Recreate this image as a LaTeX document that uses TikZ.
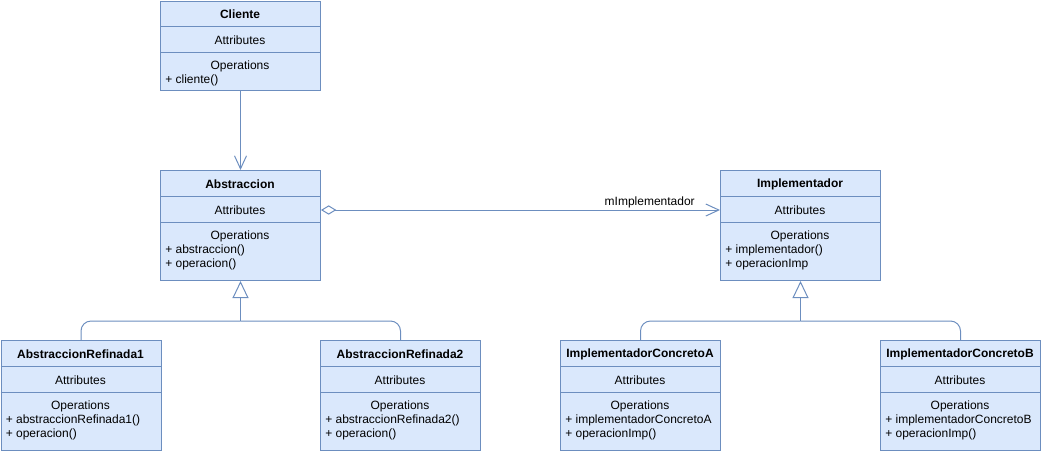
\documentclass[tikz,border=0pt]{standalone}
\usepackage{fontspec}
\setmainfont{Liberation Sans}
\usetikzlibrary{arrows.meta}

\definecolor{azulfundo}{HTML}{DAE8FC}
\definecolor{azulborda}{HTML}{6C8EBF}

\tikzset{
  caixa/.style={draw=azulborda, fill=azulfundo, line width=0.75pt, minimum width=120pt, inner sep=0pt},
  divisoria/.style={draw=azulborda, line width=0.75pt},
  texto/.style={font=\fontsize{9}{10.5}\selectfont, inner sep=0pt},
  titulo/.style={texto, font=\fontsize{9}{10.5}\selectfont\bfseries},
  metodos/.style={texto, anchor=base west},
  ligacao/.style={draw=azulborda, line width=0.75pt},
  associa/.style={ligacao, -{Straight Barb[length=9.75pt, width=9pt]}},
  agrega/.style={ligacao, {Diamond[open, length=11.5pt, width=7pt]}-{Straight Barb[length=9.75pt, width=9pt]}},
  heranca/.style={ligacao, -{Triangle[open, length=12.75pt, width=12pt]}},
  ramo/.style={ligacao, rounded corners=7.5pt}
}

% nome, x, y, altura, titulo, operacoes (em px)
\newcommand{\classeuml}[6]{%
  \node[caixa, minimum height=#4*0.75pt, anchor=north west] (#1) at (#2,#3) {};
  \draw[divisoria] (#2,#3+26) -- (#2+160,#3+26);
  \draw[divisoria] (#2,#3+52) -- (#2+160,#3+52);
  \node[titulo] (#1-tit) at (#2+80,#3+14) {#5};
  \node[texto] (#1-atr) at (#2+80,#3+40) {Attributes};
  \node[texto] (#1-oper) at (#2+80,#3+66) {Operations};
  \foreach \m [count=\i] in {#6}
    \node[metodos] (#1-met\i) at (#2+5,#3+69+14*\i) {\m};
}

\begin{document}
\begin{tikzpicture}[x=0.75pt, y=-0.75pt]
  \useasboundingbox (0,0) rectangle (1041,454);

  % classes
  \classeuml{cliente}{160}{0.5}{89.5}{Cliente}{+ cliente()}
  \classeuml{abstr}{160}{170}{110}{Abstraccion}{+ abstraccion(), + operacion()}
  \classeuml{impl}{720}{170}{110}{Implementador}{+ implementador(), + operacionImp}
  \classeuml{ref1}{0.5}{340}{110}{AbstraccionRefinada1}{+ abstraccionRefinada1(), + operacion()}
  \classeuml{ref2}{320}{340}{110}{AbstraccionRefinada2}{+ abstraccionRefinada2(), + operacion()}
  \classeuml{concA}{560}{340}{110}{ImplementadorConcretoA}{+ implementadorConcretoA, + operacionImp()}
  \classeuml{concB}{880}{340}{110}{ImplementadorConcretoB}{+ implementadorConcretoB, + operacionImp()}

  % cliente usa abstraccion
  \draw[associa] (cliente) -- (abstr);

  % agregacion
  \coordinate (iniagr) at (abstr-atr -| abstr.east);
  \coordinate (fimagr) at (impl-atr -| impl.west);
  \draw[agrega] (iniagr) -- (fimagr);
  \node[texto, anchor=base east] (rotulo) at ([shift={(-25,-5)}]fimagr) {mImplementador};

  % herencia
  \coordinate (juncA) at ([yshift=-30pt]abstr.south);
  \draw[heranca] (juncA) -- (abstr.south);
  \draw[ramo] (juncA) -| (ref1.north);
  \draw[ramo] (juncA) -| (ref2.north);

  \coordinate (juncB) at ([yshift=-30pt]impl.south);
  \draw[heranca] (juncB) -- (impl.south);
  \draw[ramo] (juncB) -| (concA.north);
  \draw[ramo] (juncB) -| (concB.north);
\end{tikzpicture}
\end{document}
